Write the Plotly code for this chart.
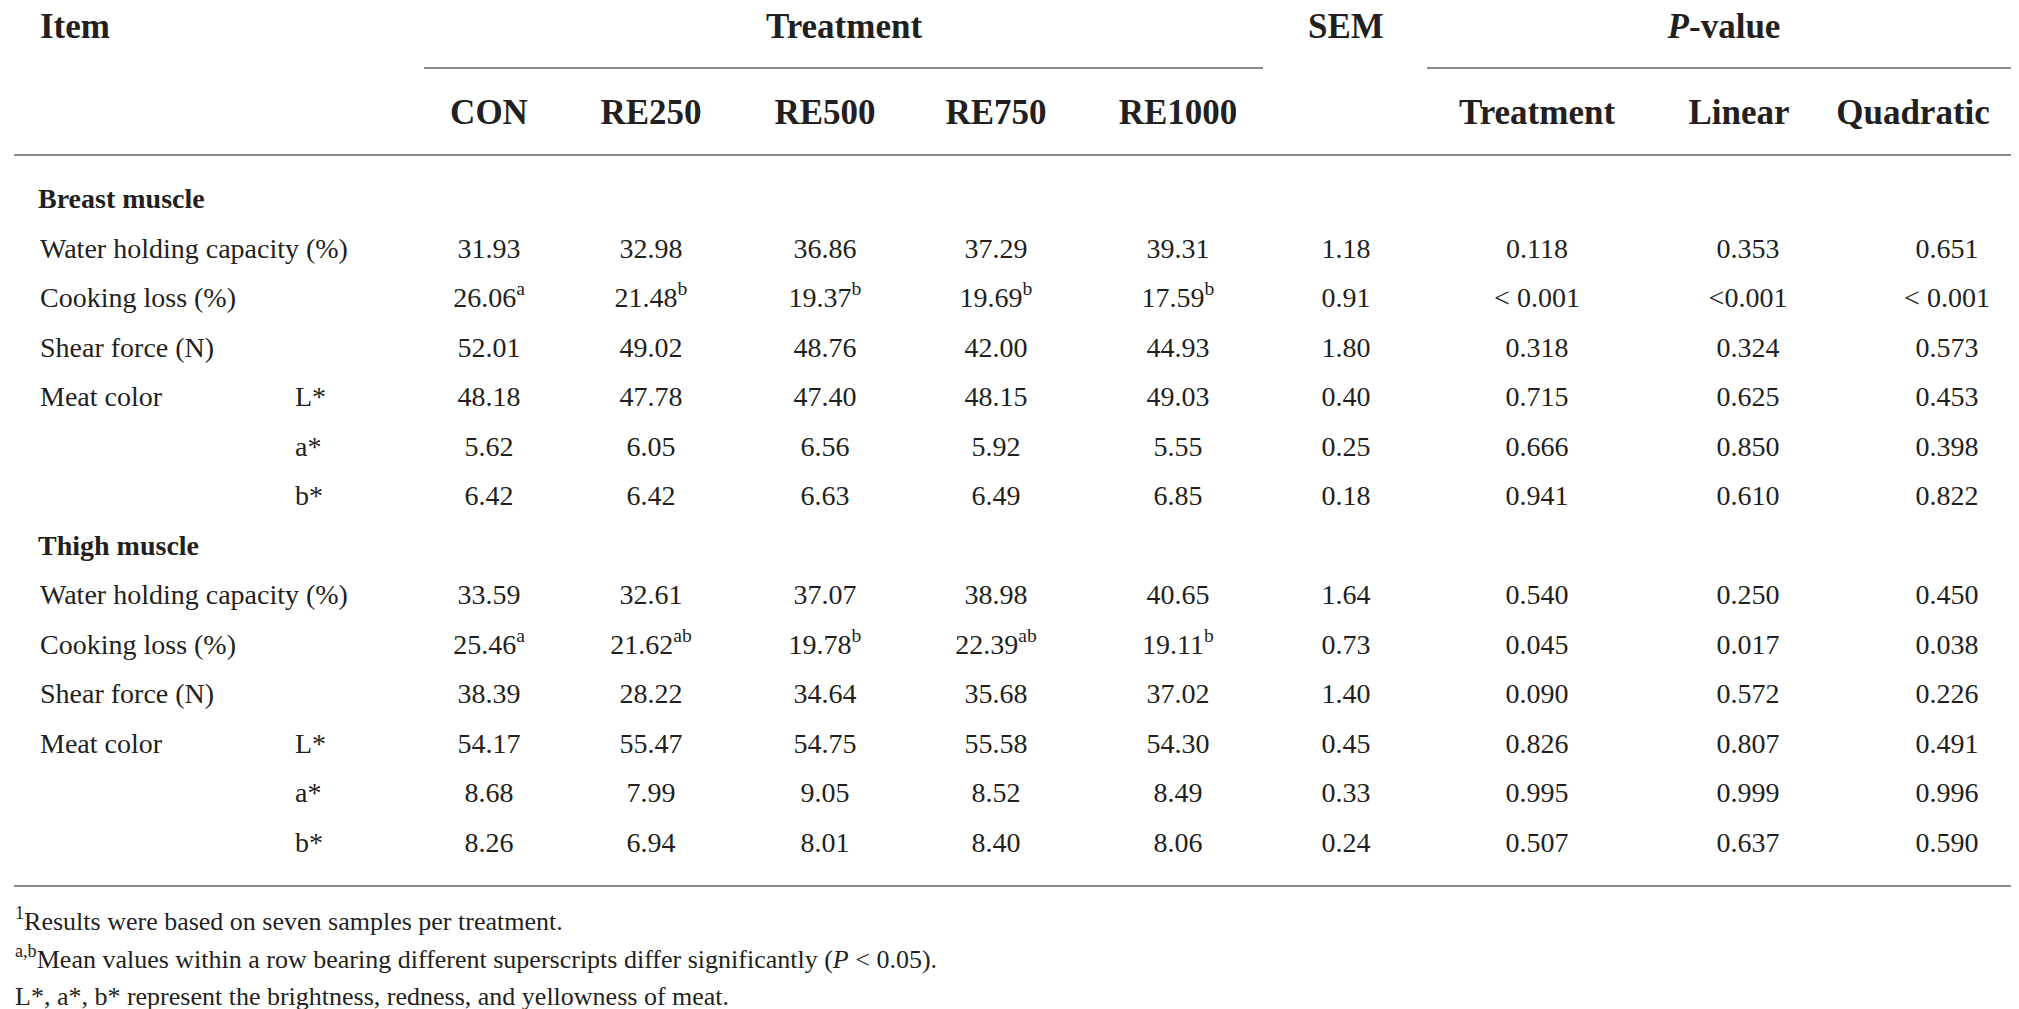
import plotly.graph_objects as go

# ---------------- data ----------------
groups = ["Breast muscle", "Thigh muscle"]
items = ["Water holding capacity (%)", "Cooking loss (%)", "Shear force (N)", "Meat color", "", ""]
sub_items = ["", "", "", "L*", "a*", "b*"]
treatments = ["CON", "RE250", "RE500", "RE750", "RE1000"]
p_labels = ["Treatment", "Linear", "Quadratic"]

breast_means = [
    ["31.93", "32.98", "36.86", "37.29", "39.31"],
    ["26.06", "21.48", "19.37", "19.69", "17.59"],
    ["52.01", "49.02", "48.76", "42.00", "44.93"],
    ["48.18", "47.78", "47.40", "48.15", "49.03"],
    ["5.62", "6.05", "6.56", "5.92", "5.55"],
    ["6.42", "6.42", "6.63", "6.49", "6.85"],
]
breast_sup = [
    ["", "", "", "", ""],
    ["a", "b", "b", "b", "b"],
    ["", "", "", "", ""],
    ["", "", "", "", ""],
    ["", "", "", "", ""],
    ["", "", "", "", ""],
]
breast_sem = ["1.18", "0.91", "1.80", "0.40", "0.25", "0.18"]
breast_p = [
    ["0.118", "0.353", "0.651"],
    ["&lt; 0.001", "&lt;0.001", "&lt; 0.001"],
    ["0.318", "0.324", "0.573"],
    ["0.715", "0.625", "0.453"],
    ["0.666", "0.850", "0.398"],
    ["0.941", "0.610", "0.822"],
]

thigh_means = [
    ["33.59", "32.61", "37.07", "38.98", "40.65"],
    ["25.46", "21.62", "19.78", "22.39", "19.11"],
    ["38.39", "28.22", "34.64", "35.68", "37.02"],
    ["54.17", "55.47", "54.75", "55.58", "54.30"],
    ["8.68", "7.99", "9.05", "8.52", "8.49"],
    ["8.26", "6.94", "8.01", "8.40", "8.06"],
]
thigh_sup = [
    ["", "", "", "", ""],
    ["a", "ab", "b", "ab", "b"],
    ["", "", "", "", ""],
    ["", "", "", "", ""],
    ["", "", "", "", ""],
    ["", "", "", "", ""],
]
thigh_sem = ["1.64", "0.73", "1.40", "0.45", "0.33", "0.24"]
thigh_p = [
    ["0.540", "0.250", "0.450"],
    ["0.045", "0.017", "0.038"],
    ["0.090", "0.572", "0.226"],
    ["0.826", "0.807", "0.491"],
    ["0.995", "0.999", "0.996"],
    ["0.507", "0.637", "0.590"],
]

footnotes = [
    "<sup>1</sup>Results were based on seven samples per treatment.",
    "<sup>a,b</sup>Mean values within a row bearing different superscripts differ significantly (<i>P</i> &lt; 0.05).",
    "L*, a*, b* represent the brightness, redness, and yellowness of meat.",
]

# ---------------- layout constants ----------------
W, H = 2019, 1009
INK = "#231f20"
RULE = "#8a8a8a"
SERIF = "Liberation Serif, Times New Roman, serif"
BODY = 28
HEAD = 35
GROUP = 28
NOTE = 26

x_label = 32
x_sub = 287
x_treat = [481, 643, 817, 988, 1170]
x_sem = 1338
x_p_head = [1529, 1731, 1905]
x_p_val = [1529, 1740, 1939]
x_treat_head = 836
x_pvalue_head = 1716

y_head1 = 21
y_rule1 = 60
y_head2 = 107
y_rule2 = 147
y_first = 193
row_step = 49.5
y_rule3 = 878
y_notes = [915, 953, 990]

blocks = [(groups[0], breast_means, breast_sup, breast_sem, breast_p),
          (groups[1], thigh_means, thigh_sup, thigh_sem, thigh_p)]

fig = go.Figure()


def add_text(xs, ys, texts, size, pos="middle center", bold=False):
    keep = [(x, y, t) for x, y, t in zip(xs, ys, texts) if t]
    if not keep:
        return
    xs, ys, texts = zip(*keep)
    txt = [f"<b>{t}</b>" if bold else t for t in texts]
    fig.add_trace(go.Scatter(
        x=list(xs), y=list(ys), text=txt, mode="text", textposition=pos,
        textfont=dict(family=SERIF, size=size, color=INK),
        hoverinfo="skip", showlegend=False, cliponaxis=False,
    ))


# header
add_text([x_label], [y_head1], ["Item"], HEAD, "middle right", bold=True)
add_text([x_treat_head], [y_head1], ["Treatment"], HEAD, bold=True)
add_text([x_sem], [y_head1], ["SEM"], HEAD, bold=True)
add_text([x_pvalue_head], [y_head1], ["<i>P</i>-value"], HEAD, bold=True)
add_text(x_treat, [y_head2] * len(treatments), treatments, HEAD, bold=True)
add_text(x_p_head, [y_head2] * len(p_labels), p_labels, HEAD, bold=True)

# body
r = 0
for gname, means, sups, sem, pv in blocks:
    y_g = y_first + r * row_step
    add_text([x_label - 2], [y_g], [gname], GROUP, "middle right", bold=True)
    r += 1
    ys = [y_first + (r + i) * row_step for i in range(len(items))]
    add_text([x_label] * len(items), ys, items, BODY, "middle right")
    add_text([x_sub] * len(sub_items), ys, sub_items, BODY, "middle right")
    for j, xc in enumerate(x_treat):
        col = [means[i][j] + (f"<sup>{sups[i][j]}</sup>" if sups[i][j] else "") for i in range(len(items))]
        add_text([xc] * len(items), ys, col, BODY)
    add_text([x_sem] * len(items), ys, sem, BODY)
    for j, xc in enumerate(x_p_val):
        add_text([xc] * len(items), ys, [pv[i][j] for i in range(len(items))], BODY)
    r += len(items)

# footnotes
add_text([7] * len(footnotes), y_notes, footnotes, NOTE, "middle right")

# rules
rules = [
    (x_treat[0] - 65, x_treat[-1] + 85, y_rule1),
    (x_p_head[0] - 110, 2012, y_rule1),
    (6, 2012, y_rule2),
    (6, 2012, y_rule3),
]
for x0, x1, yy in rules:
    fig.add_shape(type="line", xref="x", yref="y", x0=x0, x1=x1, y0=yy, y1=yy,
                  line=dict(color=RULE, width=2))

fig.update_layout(
    width=W, height=H,
    margin=dict(l=0, r=0, t=0, b=0),
    paper_bgcolor="white", plot_bgcolor="white",
    xaxis=dict(range=[0, W], visible=False, fixedrange=True),
    yaxis=dict(range=[H, 0], visible=False, fixedrange=True),
    showlegend=False,
)

fig.write_html("out.html")
